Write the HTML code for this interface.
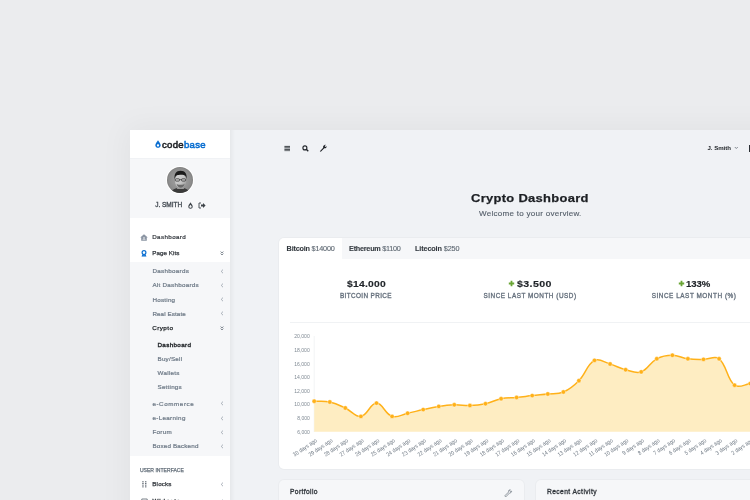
<!DOCTYPE html>
<html><head><meta charset="utf-8"><style>
html,body{margin:0;padding:0;width:750px;height:500px;overflow:hidden;background:#ebecee;}
body{position:relative;font-family:"Liberation Sans",sans-serif;}
.box{position:absolute;}
.t{position:absolute;white-space:nowrap;line-height:1;}
</style></head><body><div id="w" style="position:absolute;left:0;top:0;width:750px;height:500px;will-change:transform">
<div class="box" style="left:130px;top:130px;width:700px;height:420px;box-shadow:0 0 28px 4px rgba(0,0,10,0.045);background:#f0f2f5"></div>
<div class="box" style="left:130px;top:130px;width:100px;height:28px;background:#fff"></div>
<div class="box" style="left:130px;top:158.7px;width:100px;height:59.5px;background:#f6f7f9"></div>
<div class="box" style="left:130px;top:218px;width:100px;height:300px;background:#fff"></div>
<div class="box" style="left:130px;top:261.6px;width:100px;height:194.2px;background:#f6f7f9"></div>
<div class="box" style="left:230px;top:130px;width:5px;height:370px;background:linear-gradient(to right, rgba(0,0,0,0.045), rgba(0,0,0,0))"></div>
<svg class="box" style="left:154.5px;top:139.9px" width="6" height="8" viewBox="0 0 6 8"><path d="M3,0.2 C2.4,1.6 0.3,3.4 0.3,5.2 C0.3,6.7 1.5,7.8 3,7.8 C4.5,7.8 5.7,6.7 5.7,5.2 C5.7,3.4 3.6,1.6 3,0.2Z M3,4.3 C2.4,4.3 1.9,4.8 1.9,5.4 C1.9,6 2.4,6.5 3,6.5 C3.6,6.5 4.1,6 4.1,5.4 C4.1,4.8 3.6,4.3 3,4.3Z" fill="#0b6fd1" fill-rule="evenodd"/></svg>
<div class="t" style="left:161.60px;top:139.78px;font-size:9.47px;letter-spacing:0.287px;transform:scaleX(1.0124);transform-origin:0 0;-webkit-text-stroke:0.55px currentColor;"><span style="font-weight:normal;color:#1f2226">code</span><span style="font-weight:normal;color:#0b6fd1">base</span></div>
<div class="box" style="left:165.6px;top:165.6px;width:28.8px;height:28.8px;border-radius:50%;background:#fff"></div>
<svg class="box" style="left:167px;top:167px" width="26" height="26" viewBox="0 0 26 26">
<defs><clipPath id="av"><circle cx="13" cy="13" r="13"/></clipPath><radialGradient id="bgav" cx="0.5" cy="0.5" r="0.55"><stop offset="0" stop-color="#a8a8a8"/><stop offset="0.8" stop-color="#8c8c8c"/><stop offset="1" stop-color="#707070"/></radialGradient>
<linearGradient id="fc" x1="0" y1="0" x2="1" y2="1"><stop offset="0" stop-color="#d6d6d6"/><stop offset="0.6" stop-color="#c2c2c2"/><stop offset="1" stop-color="#8a8a8a"/></linearGradient></defs>
<g clip-path="url(#av)">
<rect width="26" height="26" fill="url(#bgav)"/>
<path d="M4,26 C5,22 9,20.5 13.5,21 C18,20.5 21.5,22 22.5,26Z" fill="#3a3a3a"/>
<path d="M10.5,19 L16.5,19 L17,22 L10,22Z" fill="#9a9a9a"/>
<ellipse cx="13.6" cy="13.8" rx="5.6" ry="7.2" fill="url(#fc)"/>
<path d="M7.6,12.5 C7,7 9,3.8 13.6,3.8 C18.2,3.8 20.2,7 19.6,12.2 C19.2,9.6 18.5,8.4 16.8,8 C14.5,7.6 11.5,7.8 10,8.3 C8.6,8.9 8,10.4 7.6,12.5Z" fill="#1c1c1c"/>
<rect x="8.4" y="11.8" width="4" height="2.3" rx="0.7" fill="none" stroke="#262626" stroke-width="0.7"/>
<rect x="14.6" y="11.8" width="4" height="2.3" rx="0.7" fill="none" stroke="#262626" stroke-width="0.7"/>
<path d="M12.4,12.6 H14.6" stroke="#262626" stroke-width="0.6"/>
<path d="M9.4,16.5 C10.2,19.5 12,20.8 13.6,20.8 C15.2,20.8 17,19.5 17.8,16.5 C16.8,18 15,17.8 13.6,17.8 C12.2,17.8 10.4,18 9.4,16.5Z" fill="#6a6a6a"/>
</g></svg>
<div class="t" style="left:155.30px;top:201.86px;font-size:6.54px;letter-spacing:-0.051px;-webkit-text-stroke:0.3px #434a52;"><span style="font-weight:normal;color:#434a52">J. SMITH</span></div>
<svg class="box" style="left:187.8px;top:201.6px" width="5" height="7" viewBox="0 0 5 7"><path d="M2.5,0.2 C2,1.4 0.3,2.9 0.3,4.5 C0.3,5.8 1.3,6.8 2.5,6.8 C3.7,6.8 4.7,5.8 4.7,4.5 C4.7,2.9 3,1.4 2.5,0.2Z M2.5,2.8 C2.1,3.5 1.3,4.1 1.3,4.8 C1.3,5.4 1.8,5.8 2.5,5.8 C3.2,5.8 3.7,5.4 3.7,4.8 C3.7,4.1 2.9,3.5 2.5,2.8Z" fill="#3d4349" fill-rule="evenodd"/></svg>
<svg class="box" style="left:197.5px;top:201.5px" width="8" height="7" viewBox="0 0 8 7"><path d="M3,1 H1 V6 H3" fill="none" stroke="#3d4349" stroke-width="0.9"/><path d="M3,2.6 H5 V1 L7.6,3.5 L5,6 V4.4 H3Z" fill="#3d4349"/></svg>
<svg class="box" style="left:140.2px;top:233.5px" width="8" height="7" viewBox="0 0 8 7"><path d="M4,0.3 L7.8,3.4 H6.8 V6.8 H1.2 V3.4 H0.2Z" fill="#8b95a3"/><path d="M3.1,3.5 h1.8 v1 h-1.8z M2.6,5.2 h2.8 v0.6 h-2.8z" fill="#fff"/></svg>
<div class="t" style="left:152.20px;top:233.61px;font-size:6.25px;letter-spacing:0.378px;-webkit-text-stroke:0.2px #30353b;"><span style="font-weight:normal;color:#30353b">Dashboard</span></div>
<svg class="box" style="left:141.2px;top:249.6px" width="6" height="7" viewBox="0 0 6 7"><circle cx="3" cy="2.6" r="1.9" fill="none" stroke="#0b6fd1" stroke-width="1.2"/><path d="M1.6,4.2 L0.5,6.6 L1.7,6.4 L2.4,7 L3,5.2 L3.6,7 L4.3,6.4 L5.5,6.6 L4.4,4.2Z" fill="#0b6fd1"/></svg>
<div class="t" style="left:152.20px;top:250.41px;font-size:6.25px;letter-spacing:0.056px;-webkit-text-stroke:0.25px #30353b;"><span style="font-weight:normal;color:#30353b">Page Kits</span></div>
<svg class="box" style="left:219.5px;top:251.0px" width="4" height="5" viewBox="0 0 4 5"><path d="M0.6,0.6 L2,1.9 L3.4,0.6 M0.6,2.6 L2,3.9 L3.4,2.6" fill="none" stroke="#6f7882" stroke-width="0.9"/></svg>
<div class="t" style="left:152.40px;top:268.41px;font-size:6.25px;letter-spacing:0.300px;-webkit-text-stroke:0.22px #6e7a87;"><span style="font-weight:normal;color:#6e7a87">Dashboards</span></div>
<svg class="box" style="left:219.5px;top:269.1px" width="4" height="5" viewBox="0 0 4 5"><path d="M3,0.6 L1.2,2.4 L3,4.2" fill="none" stroke="#9aa2ac" stroke-width="0.85"/></svg>
<div class="t" style="left:152.40px;top:282.41px;font-size:6.25px;letter-spacing:0.267px;-webkit-text-stroke:0.22px #6e7a87;"><span style="font-weight:normal;color:#6e7a87">Alt Dashboards</span></div>
<svg class="box" style="left:219.5px;top:283.1px" width="4" height="5" viewBox="0 0 4 5"><path d="M3,0.6 L1.2,2.4 L3,4.2" fill="none" stroke="#9aa2ac" stroke-width="0.85"/></svg>
<div class="t" style="left:152.40px;top:296.51px;font-size:6.25px;letter-spacing:0.252px;-webkit-text-stroke:0.22px #6e7a87;"><span style="font-weight:normal;color:#6e7a87">Hosting</span></div>
<svg class="box" style="left:219.5px;top:297.2px" width="4" height="5" viewBox="0 0 4 5"><path d="M3,0.6 L1.2,2.4 L3,4.2" fill="none" stroke="#9aa2ac" stroke-width="0.85"/></svg>
<div class="t" style="left:152.40px;top:310.61px;font-size:6.25px;letter-spacing:0.099px;-webkit-text-stroke:0.22px #6e7a87;"><span style="font-weight:normal;color:#6e7a87">Real Estate</span></div>
<svg class="box" style="left:219.5px;top:311.3px" width="4" height="5" viewBox="0 0 4 5"><path d="M3,0.6 L1.2,2.4 L3,4.2" fill="none" stroke="#9aa2ac" stroke-width="0.85"/></svg>
<div class="t" style="left:152.20px;top:325.01px;font-size:6.25px;letter-spacing:0.459px;-webkit-text-stroke:0.25px #212529;"><span style="font-weight:normal;color:#212529">Crypto</span></div>
<svg class="box" style="left:219.5px;top:325.7px" width="4" height="5" viewBox="0 0 4 5"><path d="M0.6,0.6 L2,1.9 L3.4,0.6 M0.6,2.6 L2,3.9 L3.4,2.6" fill="none" stroke="#6f7882" stroke-width="0.9"/></svg>
<div class="t" style="left:157.50px;top:341.81px;font-size:6.25px;letter-spacing:0.353px;-webkit-text-stroke:0.35px #212529;"><span style="font-weight:normal;color:#212529">Dashboard</span></div>
<div class="t" style="left:157.50px;top:356.11px;font-size:6.25px;letter-spacing:0.240px;-webkit-text-stroke:0.22px #6e7a87;"><span style="font-weight:normal;color:#6e7a87">Buy/Sell</span></div>
<div class="t" style="left:157.50px;top:370.11px;font-size:6.25px;letter-spacing:0.289px;-webkit-text-stroke:0.22px #6e7a87;"><span style="font-weight:normal;color:#6e7a87">Wallets</span></div>
<div class="t" style="left:157.50px;top:384.21px;font-size:6.25px;letter-spacing:0.232px;-webkit-text-stroke:0.22px #6e7a87;"><span style="font-weight:normal;color:#6e7a87">Settings</span></div>
<div class="t" style="left:152.40px;top:400.71px;font-size:6.25px;letter-spacing:0.586px;-webkit-text-stroke:0.22px #6e7a87;"><span style="font-weight:normal;color:#6e7a87">e-Commerce</span></div>
<svg class="box" style="left:219.5px;top:401.4px" width="4" height="5" viewBox="0 0 4 5"><path d="M3,0.6 L1.2,2.4 L3,4.2" fill="none" stroke="#9aa2ac" stroke-width="0.85"/></svg>
<div class="t" style="left:152.40px;top:414.91px;font-size:6.25px;letter-spacing:0.345px;-webkit-text-stroke:0.22px #6e7a87;"><span style="font-weight:normal;color:#6e7a87">e-Learning</span></div>
<svg class="box" style="left:219.5px;top:415.6px" width="4" height="5" viewBox="0 0 4 5"><path d="M3,0.6 L1.2,2.4 L3,4.2" fill="none" stroke="#9aa2ac" stroke-width="0.85"/></svg>
<div class="t" style="left:152.40px;top:429.41px;font-size:6.25px;letter-spacing:0.334px;-webkit-text-stroke:0.22px #6e7a87;"><span style="font-weight:normal;color:#6e7a87">Forum</span></div>
<svg class="box" style="left:219.5px;top:430.1px" width="4" height="5" viewBox="0 0 4 5"><path d="M3,0.6 L1.2,2.4 L3,4.2" fill="none" stroke="#9aa2ac" stroke-width="0.85"/></svg>
<div class="t" style="left:152.40px;top:443.41px;font-size:6.25px;letter-spacing:0.185px;-webkit-text-stroke:0.22px #6e7a87;"><span style="font-weight:normal;color:#6e7a87">Boxed Backend</span></div>
<svg class="box" style="left:219.5px;top:444.1px" width="4" height="5" viewBox="0 0 4 5"><path d="M3,0.6 L1.2,2.4 L3,4.2" fill="none" stroke="#9aa2ac" stroke-width="0.85"/></svg>
<div class="t" style="left:139.90px;top:467.89px;font-size:5.09px;letter-spacing:0.001px;-webkit-text-stroke:0.25px #66717c;"><span style="font-weight:normal;color:#66717c">USER INTERFACE</span></div>
<svg class="box" style="left:141.5px;top:481px" width="5" height="7" viewBox="0 0 5 7"><g fill="#58616b"><rect x="0.3" y="0.2" width="1.3" height="1.1"/><rect x="3.1" y="0.2" width="1.3" height="1.1"/><rect x="0.3" y="1.9" width="1.3" height="1.1"/><rect x="3.1" y="1.9" width="1.3" height="1.1"/><rect x="0.3" y="3.6" width="1.3" height="1.1"/><rect x="3.1" y="3.6" width="1.3" height="1.1"/><rect x="0.3" y="5.3" width="1.3" height="1.1"/><rect x="3.1" y="5.3" width="1.3" height="1.1"/></g></svg>
<div class="t" style="left:152.30px;top:481.21px;font-size:6.25px;letter-spacing:0.139px;-webkit-text-stroke:0.25px #30353b;"><span style="font-weight:normal;color:#30353b">Blocks</span></div>
<svg class="box" style="left:219.5px;top:481.8px" width="4" height="5" viewBox="0 0 4 5"><path d="M3,0.6 L1.2,2.4 L3,4.2" fill="none" stroke="#9aa2ac" stroke-width="0.85"/></svg>
<svg class="box" style="left:141px;top:497.6px" width="7" height="6" viewBox="0 0 7 6"><path d="M0.8,1 h5.4 v5 h-5.4z" fill="none" stroke="#6c757d" stroke-width="0.9"/></svg>
<div class="t" style="left:152.50px;top:498.21px;font-size:6.25px;letter-spacing:0.820px;-webkit-text-stroke:0.35px #30353b;"><span style="font-weight:normal;color:#30353b">Widgets</span></div>
<svg class="box" style="left:219.5px;top:498.9px" width="4" height="5" viewBox="0 0 4 5"><path d="M3,0.6 L1.2,2.4 L3,4.2" fill="none" stroke="#9aa2ac" stroke-width="0.85"/></svg>
<svg class="box" style="left:283.5px;top:145px" width="7" height="7" viewBox="0 0 7 7"><g fill="#2b3035"><rect x="0.4" y="0.9" width="5.6" height="0.9"/><rect x="0.4" y="2.4" width="5.6" height="0.9"/><rect x="0.4" y="3.9" width="5.6" height="0.9"/><rect x="0.4" y="5.4" width="5.6" height="0.7"/></g></svg>
<svg class="box" style="left:301.5px;top:145px" width="7" height="7" viewBox="0 0 7 7"><circle cx="2.9" cy="2.9" r="2" fill="none" stroke="#1f2328" stroke-width="1.1"/><path d="M4.3,4.3 L6.3,6.3" stroke="#1f2328" stroke-width="1.3"/></svg>
<svg class="box" style="left:318.8px;top:143.8px" width="8" height="8" viewBox="0 0 8 8"><path d="M0.8,7.2 L4.2,3.8 C3.8,2.6 4.4,1.2 5.6,0.9 C6,0.8 6.5,0.8 6.8,0.9 L5.7,2 L6,2.6 L6.6,2.9 L7.6,1.9 C7.8,3.4 6.8,4.6 5.3,4.3 L1.8,7.8Z" fill="#1f2328"/></svg>
<div class="t" style="left:707.50px;top:145.33px;font-size:6.10px;letter-spacing:-0.050px;"><span style="font-weight:bold;color:#212529">J. Smith</span></div>
<svg class="box" style="left:733.8px;top:146px" width="5" height="4" viewBox="0 0 5 4"><path d="M0.8,1 L2.3,2.5 L3.8,1" fill="none" stroke="#555d66" stroke-width="0.7"/></svg>
<div class="box" style="left:749.2px;top:145px;width:2px;height:7px;background:#2b3035"></div>
<div class="t" style="left:471.30px;top:191.66px;font-size:11.63px;letter-spacing:0.289px;transform:scaleX(1.1109);transform-origin:0 0;-webkit-text-stroke:0.25px #1c1f23;"><span style="font-weight:bold;color:#1c1f23">Crypto Dashboard</span></div>
<div class="t" style="left:478.80px;top:210.00px;font-size:7.56px;letter-spacing:0.240px;transform:scaleX(1.0684);transform-origin:0 0;-webkit-text-stroke:0.12px #56606b;"><span style="font-weight:normal;color:#56606b">Welcome to your overview.</span></div>
<div class="box" style="left:279px;top:238px;width:520px;height:230.5px;background:#fff;border-radius:5px;overflow:hidden;box-shadow:0 0 0 1px rgba(0,0,0,0.022)"><div class="box" style="left:63px;top:0;width:460px;height:20.6px;background:#f6f7f9"></div></div>
<div class="t" style="left:286.60px;top:244.85px;font-size:7.27px;letter-spacing:-0.208px;-webkit-text-stroke:0.12px #5c6670;"><span style="font-weight:bold;color:#2f3439">Bitcoin </span><span style="font-weight:normal;color:#5f6973">$14000</span></div>
<div class="t" style="left:349.10px;top:244.85px;font-size:7.27px;letter-spacing:-0.263px;-webkit-text-stroke:0.12px #5c6670;"><span style="font-weight:bold;color:#2f3439">Ethereum </span><span style="font-weight:normal;color:#5f6973">$1100</span></div>
<div class="t" style="left:415.00px;top:244.85px;font-size:7.27px;letter-spacing:-0.129px;-webkit-text-stroke:0.12px #5c6670;"><span style="font-weight:bold;color:#2f3439">Litecoin </span><span style="font-weight:normal;color:#5f6973">$250</span></div>
<div class="t" style="left:346.80px;top:279.06px;font-size:9.74px;letter-spacing:0.226px;transform:scaleX(1.0613);transform-origin:0 0;-webkit-text-stroke:0.15px #1f2328;"><span style="font-weight:bold;color:#1f2328">$14.000</span></div>
<div class="t" style="left:340.00px;top:293.09px;font-size:6.40px;letter-spacing:0.362px;-webkit-text-stroke:0.3px #636e7b;"><span style="font-weight:normal;color:#636e7b">BITCOIN PRICE</span></div>
<svg class="box" style="left:508px;top:280px" width="7" height="7" viewBox="0 0 7 7"><path d="M2.6,0.8 h1.8 v1.8 h1.8 v1.8 h-1.8 v1.8 h-1.8 v-1.8 h-1.8 v-1.8 h1.8z" fill="#6aa535"/></svg>
<div class="t" style="left:517.10px;top:279.06px;font-size:9.74px;letter-spacing:0.338px;transform:scaleX(1.0932);transform-origin:0 0;-webkit-text-stroke:0.15px #1f2328;"><span style="font-weight:bold;color:#1f2328">$3.500</span></div>
<div class="t" style="left:483.50px;top:293.09px;font-size:6.40px;letter-spacing:0.507px;-webkit-text-stroke:0.3px #636e7b;"><span style="font-weight:normal;color:#636e7b">SINCE LAST MONTH (USD)</span></div>
<svg class="box" style="left:677.5px;top:280px" width="7" height="7" viewBox="0 0 7 7"><path d="M2.6,0.8 h1.8 v1.8 h1.8 v1.8 h-1.8 v1.8 h-1.8 v-1.8 h-1.8 v-1.8 h1.8z" fill="#6aa535"/></svg>
<div class="t" style="left:686.20px;top:279.06px;font-size:9.74px;letter-spacing:-0.096px;transform:scaleX(0.9830);transform-origin:0 0;-webkit-text-stroke:0.15px #1f2328;"><span style="font-weight:bold;color:#1f2328">133%</span></div>
<div class="t" style="left:651.70px;top:293.09px;font-size:6.40px;letter-spacing:0.534px;-webkit-text-stroke:0.3px #636e7b;"><span style="font-weight:normal;color:#636e7b">SINCE LAST MONTH (%)</span></div>
<div class="box" style="left:290px;top:322px;width:480px;height:1px;background:#f0f2f4"></div>
<svg class="box" style="left:0;top:0" width="750" height="500" viewBox="0 0 750 500"><path d="M314.2,336 V432" stroke="#e9ecef" stroke-width="0.6"/><path d="M314.2,401.2 C320.4,401.5 323.8,400.7 329.8,402.0 C336.2,403.4 339.3,405.2 345.3,408.0 C351.8,411.0 355.1,417.3 360.9,416.4 C367.6,415.3 370.3,403.1 376.5,403.1 C382.7,403.1 385.0,414.1 392.1,416.4 C397.5,418.2 401.4,414.7 407.6,413.3 C413.9,411.9 417.0,411.0 423.2,409.6 C429.4,408.2 432.5,407.4 438.8,406.4 C445.0,405.4 448.1,405.0 454.3,404.8 C460.6,404.6 463.7,405.7 469.9,405.5 C476.2,405.3 479.4,405.0 485.5,403.7 C491.9,402.3 494.7,400.0 501.1,398.7 C507.1,397.5 510.4,398.1 516.6,397.5 C522.9,396.9 526.0,396.3 532.2,395.6 C538.4,394.9 541.6,394.7 547.8,394.0 C554.0,393.3 557.8,394.4 563.4,392.0 C570.2,389.1 573.6,386.1 578.9,380.7 C586.0,373.5 586.8,364.5 594.5,360.4 C599.3,357.8 604.0,362.2 610.1,364.0 C616.4,365.9 619.2,368.1 625.6,369.7 C631.7,371.2 635.8,373.8 641.2,371.9 C648.2,369.4 649.8,362.5 656.8,358.8 C662.3,355.9 666.1,355.3 672.4,355.3 C678.6,355.3 681.6,358.0 687.9,358.8 C694.1,359.6 697.3,359.4 703.5,359.4 C709.7,359.4 714.9,355.3 719.1,358.8 C727.3,365.6 726.4,378.6 734.6,385.2 C738.9,388.6 744.1,384.6 750.2,383.6 C756.5,382.5 759.6,381.4 765.8,380.0 L765.8,431.8 L314.2,431.8 Z" fill="#feedc2"/><path d="M314.2,401.2 C320.4,401.5 323.8,400.7 329.8,402.0 C336.2,403.4 339.3,405.2 345.3,408.0 C351.8,411.0 355.1,417.3 360.9,416.4 C367.6,415.3 370.3,403.1 376.5,403.1 C382.7,403.1 385.0,414.1 392.1,416.4 C397.5,418.2 401.4,414.7 407.6,413.3 C413.9,411.9 417.0,411.0 423.2,409.6 C429.4,408.2 432.5,407.4 438.8,406.4 C445.0,405.4 448.1,405.0 454.3,404.8 C460.6,404.6 463.7,405.7 469.9,405.5 C476.2,405.3 479.4,405.0 485.5,403.7 C491.9,402.3 494.7,400.0 501.1,398.7 C507.1,397.5 510.4,398.1 516.6,397.5 C522.9,396.9 526.0,396.3 532.2,395.6 C538.4,394.9 541.6,394.7 547.8,394.0 C554.0,393.3 557.8,394.4 563.4,392.0 C570.2,389.1 573.6,386.1 578.9,380.7 C586.0,373.5 586.8,364.5 594.5,360.4 C599.3,357.8 604.0,362.2 610.1,364.0 C616.4,365.9 619.2,368.1 625.6,369.7 C631.7,371.2 635.8,373.8 641.2,371.9 C648.2,369.4 649.8,362.5 656.8,358.8 C662.3,355.9 666.1,355.3 672.4,355.3 C678.6,355.3 681.6,358.0 687.9,358.8 C694.1,359.6 697.3,359.4 703.5,359.4 C709.7,359.4 714.9,355.3 719.1,358.8 C727.3,365.6 726.4,378.6 734.6,385.2 C738.9,388.6 744.1,384.6 750.2,383.6 C756.5,382.5 759.6,381.4 765.8,380.0" fill="none" stroke="#ffb119" stroke-width="1.5"/><g fill="#ffb119" stroke="#fff" stroke-width="0.4"><circle cx="314.2" cy="401.2" r="2.2"/><circle cx="329.8" cy="402.0" r="2.2"/><circle cx="345.3" cy="408.0" r="2.2"/><circle cx="360.9" cy="416.4" r="2.2"/><circle cx="376.5" cy="403.1" r="2.2"/><circle cx="392.1" cy="416.4" r="2.2"/><circle cx="407.6" cy="413.3" r="2.2"/><circle cx="423.2" cy="409.6" r="2.2"/><circle cx="438.8" cy="406.4" r="2.2"/><circle cx="454.3" cy="404.8" r="2.2"/><circle cx="469.9" cy="405.5" r="2.2"/><circle cx="485.5" cy="403.7" r="2.2"/><circle cx="501.1" cy="398.7" r="2.2"/><circle cx="516.6" cy="397.5" r="2.2"/><circle cx="532.2" cy="395.6" r="2.2"/><circle cx="547.8" cy="394.0" r="2.2"/><circle cx="563.4" cy="392.0" r="2.2"/><circle cx="578.9" cy="380.7" r="2.2"/><circle cx="594.5" cy="360.4" r="2.2"/><circle cx="610.1" cy="364.0" r="2.2"/><circle cx="625.6" cy="369.7" r="2.2"/><circle cx="641.2" cy="371.9" r="2.2"/><circle cx="656.8" cy="358.8" r="2.2"/><circle cx="672.4" cy="355.3" r="2.2"/><circle cx="687.9" cy="358.8" r="2.2"/><circle cx="703.5" cy="359.4" r="2.2"/><circle cx="719.1" cy="358.8" r="2.2"/><circle cx="734.6" cy="385.2" r="2.2"/><circle cx="750.2" cy="383.6" r="2.2"/><circle cx="765.8" cy="380.0" r="2.2"/></g><text x="294.2" y="336.3" textLength="15.6" lengthAdjust="spacingAndGlyphs" font-size="5.5" fill="#7f8993" font-family="Liberation Sans" dominant-baseline="central">20,000</text><text x="294.2" y="349.9" textLength="15.6" lengthAdjust="spacingAndGlyphs" font-size="5.5" fill="#7f8993" font-family="Liberation Sans" dominant-baseline="central">18,000</text><text x="294.2" y="363.5" textLength="15.6" lengthAdjust="spacingAndGlyphs" font-size="5.5" fill="#7f8993" font-family="Liberation Sans" dominant-baseline="central">16,000</text><text x="294.2" y="377.1" textLength="15.6" lengthAdjust="spacingAndGlyphs" font-size="5.5" fill="#7f8993" font-family="Liberation Sans" dominant-baseline="central">14,000</text><text x="294.2" y="390.7" textLength="15.6" lengthAdjust="spacingAndGlyphs" font-size="5.5" fill="#7f8993" font-family="Liberation Sans" dominant-baseline="central">12,000</text><text x="294.2" y="404.4" textLength="15.6" lengthAdjust="spacingAndGlyphs" font-size="5.5" fill="#7f8993" font-family="Liberation Sans" dominant-baseline="central">10,000</text><text x="297.2" y="418.0" textLength="12.6" lengthAdjust="spacingAndGlyphs" font-size="5.5" fill="#7f8993" font-family="Liberation Sans" dominant-baseline="central">8,000</text><text x="297.2" y="431.6" textLength="12.6" lengthAdjust="spacingAndGlyphs" font-size="5.5" fill="#7f8993" font-family="Liberation Sans" dominant-baseline="central">6,000</text><text transform="translate(315.2,438.0) rotate(-34)" text-anchor="end" textLength="27.6" lengthAdjust="spacingAndGlyphs" font-size="5.8" fill="#6f7984" font-family="Liberation Sans" dominant-baseline="hanging">30 days ago</text><text transform="translate(330.8,438.0) rotate(-34)" text-anchor="end" textLength="27.6" lengthAdjust="spacingAndGlyphs" font-size="5.8" fill="#6f7984" font-family="Liberation Sans" dominant-baseline="hanging">29 days ago</text><text transform="translate(346.3,438.0) rotate(-34)" text-anchor="end" textLength="27.6" lengthAdjust="spacingAndGlyphs" font-size="5.8" fill="#6f7984" font-family="Liberation Sans" dominant-baseline="hanging">28 days ago</text><text transform="translate(361.9,438.0) rotate(-34)" text-anchor="end" textLength="27.6" lengthAdjust="spacingAndGlyphs" font-size="5.8" fill="#6f7984" font-family="Liberation Sans" dominant-baseline="hanging">27 days ago</text><text transform="translate(377.5,438.0) rotate(-34)" text-anchor="end" textLength="27.6" lengthAdjust="spacingAndGlyphs" font-size="5.8" fill="#6f7984" font-family="Liberation Sans" dominant-baseline="hanging">26 days ago</text><text transform="translate(393.1,438.0) rotate(-34)" text-anchor="end" textLength="27.6" lengthAdjust="spacingAndGlyphs" font-size="5.8" fill="#6f7984" font-family="Liberation Sans" dominant-baseline="hanging">25 days ago</text><text transform="translate(408.6,438.0) rotate(-34)" text-anchor="end" textLength="27.6" lengthAdjust="spacingAndGlyphs" font-size="5.8" fill="#6f7984" font-family="Liberation Sans" dominant-baseline="hanging">24 days ago</text><text transform="translate(424.2,438.0) rotate(-34)" text-anchor="end" textLength="27.6" lengthAdjust="spacingAndGlyphs" font-size="5.8" fill="#6f7984" font-family="Liberation Sans" dominant-baseline="hanging">23 days ago</text><text transform="translate(439.8,438.0) rotate(-34)" text-anchor="end" textLength="27.6" lengthAdjust="spacingAndGlyphs" font-size="5.8" fill="#6f7984" font-family="Liberation Sans" dominant-baseline="hanging">22 days ago</text><text transform="translate(455.3,438.0) rotate(-34)" text-anchor="end" textLength="27.6" lengthAdjust="spacingAndGlyphs" font-size="5.8" fill="#6f7984" font-family="Liberation Sans" dominant-baseline="hanging">21 days ago</text><text transform="translate(470.9,438.0) rotate(-34)" text-anchor="end" textLength="27.6" lengthAdjust="spacingAndGlyphs" font-size="5.8" fill="#6f7984" font-family="Liberation Sans" dominant-baseline="hanging">20 days ago</text><text transform="translate(486.5,438.0) rotate(-34)" text-anchor="end" textLength="27.6" lengthAdjust="spacingAndGlyphs" font-size="5.8" fill="#6f7984" font-family="Liberation Sans" dominant-baseline="hanging">19 days ago</text><text transform="translate(502.1,438.0) rotate(-34)" text-anchor="end" textLength="27.6" lengthAdjust="spacingAndGlyphs" font-size="5.8" fill="#6f7984" font-family="Liberation Sans" dominant-baseline="hanging">18 days ago</text><text transform="translate(517.6,438.0) rotate(-34)" text-anchor="end" textLength="27.6" lengthAdjust="spacingAndGlyphs" font-size="5.8" fill="#6f7984" font-family="Liberation Sans" dominant-baseline="hanging">17 days ago</text><text transform="translate(533.2,438.0) rotate(-34)" text-anchor="end" textLength="27.6" lengthAdjust="spacingAndGlyphs" font-size="5.8" fill="#6f7984" font-family="Liberation Sans" dominant-baseline="hanging">16 days ago</text><text transform="translate(548.8,438.0) rotate(-34)" text-anchor="end" textLength="27.6" lengthAdjust="spacingAndGlyphs" font-size="5.8" fill="#6f7984" font-family="Liberation Sans" dominant-baseline="hanging">15 days ago</text><text transform="translate(564.4,438.0) rotate(-34)" text-anchor="end" textLength="27.6" lengthAdjust="spacingAndGlyphs" font-size="5.8" fill="#6f7984" font-family="Liberation Sans" dominant-baseline="hanging">14 days ago</text><text transform="translate(579.9,438.0) rotate(-34)" text-anchor="end" textLength="27.6" lengthAdjust="spacingAndGlyphs" font-size="5.8" fill="#6f7984" font-family="Liberation Sans" dominant-baseline="hanging">13 days ago</text><text transform="translate(595.5,438.0) rotate(-34)" text-anchor="end" textLength="27.6" lengthAdjust="spacingAndGlyphs" font-size="5.8" fill="#6f7984" font-family="Liberation Sans" dominant-baseline="hanging">12 days ago</text><text transform="translate(611.1,438.0) rotate(-34)" text-anchor="end" textLength="27.6" lengthAdjust="spacingAndGlyphs" font-size="5.8" fill="#6f7984" font-family="Liberation Sans" dominant-baseline="hanging">11 days ago</text><text transform="translate(626.6,438.0) rotate(-34)" text-anchor="end" textLength="27.6" lengthAdjust="spacingAndGlyphs" font-size="5.8" fill="#6f7984" font-family="Liberation Sans" dominant-baseline="hanging">10 days ago</text><text transform="translate(642.2,438.0) rotate(-34)" text-anchor="end" textLength="24.8" lengthAdjust="spacingAndGlyphs" font-size="5.8" fill="#6f7984" font-family="Liberation Sans" dominant-baseline="hanging">9 days ago</text><text transform="translate(657.8,438.0) rotate(-34)" text-anchor="end" textLength="24.8" lengthAdjust="spacingAndGlyphs" font-size="5.8" fill="#6f7984" font-family="Liberation Sans" dominant-baseline="hanging">8 days ago</text><text transform="translate(673.4,438.0) rotate(-34)" text-anchor="end" textLength="24.8" lengthAdjust="spacingAndGlyphs" font-size="5.8" fill="#6f7984" font-family="Liberation Sans" dominant-baseline="hanging">7 days ago</text><text transform="translate(688.9,438.0) rotate(-34)" text-anchor="end" textLength="24.8" lengthAdjust="spacingAndGlyphs" font-size="5.8" fill="#6f7984" font-family="Liberation Sans" dominant-baseline="hanging">6 days ago</text><text transform="translate(704.5,438.0) rotate(-34)" text-anchor="end" textLength="24.8" lengthAdjust="spacingAndGlyphs" font-size="5.8" fill="#6f7984" font-family="Liberation Sans" dominant-baseline="hanging">5 days ago</text><text transform="translate(720.1,438.0) rotate(-34)" text-anchor="end" textLength="24.8" lengthAdjust="spacingAndGlyphs" font-size="5.8" fill="#6f7984" font-family="Liberation Sans" dominant-baseline="hanging">4 days ago</text><text transform="translate(735.6,438.0) rotate(-34)" text-anchor="end" textLength="24.8" lengthAdjust="spacingAndGlyphs" font-size="5.8" fill="#6f7984" font-family="Liberation Sans" dominant-baseline="hanging">3 days ago</text><text transform="translate(751.2,438.0) rotate(-34)" text-anchor="end" textLength="24.8" lengthAdjust="spacingAndGlyphs" font-size="5.8" fill="#6f7984" font-family="Liberation Sans" dominant-baseline="hanging">2 days ago</text></svg>
<div class="box" style="left:279px;top:480px;width:245px;height:40px;background:#f6f7f9;border-radius:5px;box-shadow:0 0 0 1px rgba(0,0,0,0.022)"></div>
<div class="t" style="left:290.00px;top:488.54px;font-size:6.69px;letter-spacing:0.372px;-webkit-text-stroke:0.3px #30353b;"><span style="font-weight:normal;color:#30353b">Portfolio</span></div>
<svg class="box" style="left:504px;top:488.5px" width="9" height="8" viewBox="0 0 9 8"><path d="M1,6.6 L4.6,3 C4.3,2 4.8,1 5.8,0.8 L6.3,0.8 L5.6,1.8 L6.6,2.8 L7.6,2.1 C7.7,3.2 6.8,4 5.8,3.8 L2.2,7.4 C1.9,7.7 1.3,7.7 1,7.4 C0.7,7.1 0.7,6.9 1,6.6Z" fill="none" stroke="#6f7882" stroke-width="0.75" stroke-linejoin="round"/></svg>
<div class="box" style="left:535.8px;top:480px;width:260px;height:40px;background:#f6f7f9;border-radius:5px;box-shadow:0 0 0 1px rgba(0,0,0,0.022)"></div>
<div class="t" style="left:547.00px;top:488.54px;font-size:6.69px;letter-spacing:0.404px;-webkit-text-stroke:0.3px #30353b;"><span style="font-weight:normal;color:#30353b">Recent Activity</span></div>
</div></body></html>
